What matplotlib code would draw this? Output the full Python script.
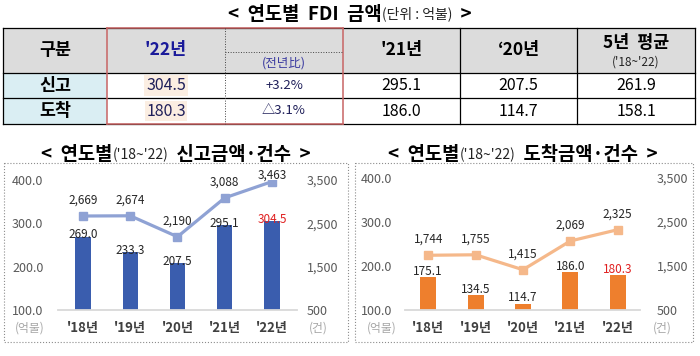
import matplotlib
matplotlib.use("Agg")
import matplotlib.pyplot as plt
from matplotlib.patches import Rectangle

plt.rcParams['font.family'] = ['Noto Sans CJK KR', 'DejaVu Sans']

# chart data
years = ["'18년", "'19년", "'20년", "'21년", "'22년"]
report_amt = [269.0, 233.3, 207.5, 295.1, 304.5]
report_cnt = [2669, 2674, 2190, 3088, 3463]
arrive_amt = [175.1, 134.5, 114.7, 186.0, 180.3]
arrive_cnt = [1744, 1755, 1415, 2069, 2325]

# table data
row_names = ["신고", "도착"]
amt_22 = ["304.5", "180.3"]
yoy = ["+3.2%", "△3.1%"]
amt_21 = ["295.1", "186.0"]
amt_20 = ["207.5", "114.7"]
avg_5y = ["261.9", "158.1"]

W, H = 700, 356
fig = plt.figure(figsize=(7, 3.56), dpi=100)
bg = fig.add_axes([0, 0, 1, 1])
bg.set_xlim(0, W)
bg.set_ylim(H, 0)
bg.axis('off')
renderer = fig.canvas.get_renderer()


def px_axes(x0, y0, x1, y1):
    return fig.add_axes([x0 / W, 1 - y1 / H, (x1 - x0) / W, (y1 - y0) / H])


def text_run(xc, y, pieces):
    # lay out several differently styled text pieces centred on xc
    objs = []
    for s, kw in pieces:
        objs.append(bg.text(0, y, s, va='center', ha='left', **kw))
    widths = []
    for t in objs:
        bb = t.get_window_extent(renderer)
        widths.append(bb.width * W / fig.bbox.width)
    x = xc - sum(widths) / 2
    for t, w in zip(objs, widths):
        t.set_x(x)
        x += w


# ---- top title ----
big = dict(fontsize=13.5, fontweight='bold', color='black')
small = dict(fontsize=10, color='#222222')
text_run(350, 14, [("<  연도별  FDI  금액", big), ("(단위 : 억불)", small), ("  >", big)])

# ---- table ----
cols = [3, 107, 225, 343, 460, 577, 695]
rows = [28, 73, 98, 124]
bg.add_patch(Rectangle((cols[0], rows[0]), cols[-1] - cols[0], rows[1] - rows[0],
                       facecolor='#DCDCDC', edgecolor='none'))
bg.add_patch(Rectangle((cols[0], rows[1]), cols[1] - cols[0], rows[3] - rows[1],
                       facecolor='#DAEEF3', edgecolor='none'))
for y in rows:
    bg.plot([cols[0], cols[-1]], [y, y], color='black', lw=0.9)
for x in [cols[0], cols[4], cols[5], cols[6]]:
    bg.plot([x, x], [rows[0], rows[-1]], color='black', lw=0.9)
for x in [cols[1], cols[3]]:
    bg.plot([x, x], [rows[0], rows[-1]], color='#C86464', lw=1.1)
for y in [rows[0], rows[-1]]:
    bg.plot([cols[1], cols[3]], [y, y], color='#C86464', lw=1.1)
bg.plot([cols[2], cols[2]], [rows[0], rows[-1]], color='#444444', lw=0.7, ls=':')
bg.plot([cols[2], cols[3]], [52, 52], color='#444444', lw=0.7, ls=':')

cx = [(cols[i] + cols[i + 1]) / 2 for i in range(6)]
hdr = dict(fontsize=12.5, fontweight='bold', ha='center', va='center')
bg.text(cx[0], 50, "구분", color='black', **hdr)
bg.text(cx[1], 50, "'22년", color='#1A1A9A', **hdr)
bg.text(cx[2], 63, "(전년比)", fontsize=9, color='#3A3AA0', ha='center', va='center')
bg.text(cx[3], 50, "'21년", color='black', **hdr)
bg.text(cx[4], 50, "‘20년", color='black', **hdr)
bg.text(cx[5], 43, "5년  평균", color='black', **hdr)
bg.text(cx[5], 62, "('18~'22)", fontsize=8.5, color='#222222', ha='center', va='center')

val = dict(fontsize=11.5, ha='center', va='center', color='black')
for i, name in enumerate(row_names):
    yc = (rows[i + 1] + rows[i + 2]) / 2
    bg.text(cx[0], yc, name, color='black', **hdr)
    bg.text(cx[1], yc, amt_22[i], fontsize=11.5, ha='center', va='center', color='#20205A',
            bbox=dict(boxstyle='square,pad=0.1', facecolor='#FBEEE2', edgecolor='none'))
    bg.text(cx[2], yc, yoy[i], fontsize=9.5, ha='center', va='center', color='#20205A')
    bg.text(cx[3], yc, amt_21[i], **val)
    bg.text(cx[4], yc, amt_20[i], **val)
    bg.text(cx[5], yc, avg_5y[i], **val)


# ---- bar + line charts ----
def draw_chart(box, frame, title_x, title, amt, cnt, bar_c, line_c, xlim, bw,
               bar_dy, lpad, rpad, units_x):
    bg.add_patch(Rectangle((frame[0], frame[1]), frame[2] - frame[0], frame[3] - frame[1],
                           fill=False, edgecolor='#8C8C8C', lw=0.8, ls=':'))
    text_run(title_x, 155, [("<  연도별", big), ("('18~'22)", small),
                            ("  " + title + "  >", big)])
    ax = px_axes(*box)
    x = list(range(len(years)))
    ax.bar(x, [a - 100 for a in amt], bottom=100, width=bw, color=bar_c, zorder=2)
    ax.set_xlim(*xlim)
    ax.set_ylim(100, 400)
    ax.set_yticks([100, 200, 300, 400])
    ax.set_yticklabels([f"{v:.1f}" for v in [100, 200, 300, 400]])
    ax.set_xticks(x)
    ax.set_xticklabels(years, fontsize=9.5, color='#404040', fontweight='bold')
    ax.tick_params(axis='y', length=0, labelsize=9, labelcolor='#595959', pad=lpad)
    ax.tick_params(axis='x', length=0, pad=8)
    for s in ['top', 'left', 'right']:
        ax.spines[s].set_visible(False)
    ax.spines['bottom'].set_color('#D9D9D9')
    ax.spines['bottom'].set_linewidth(1.3)
    ax.patch.set_alpha(0)

    ax2 = ax.twinx()
    ax2.plot(x, cnt, color=line_c, lw=2.3, marker='s', markersize=5.5, zorder=3)
    ax2.set_ylim(500, 3500)
    ax2.set_yticks([500, 1500, 2500, 3500])
    ax2.set_yticklabels([f"{v:,}" for v in [500, 1500, 2500, 3500]])
    ax2.tick_params(axis='y', length=0, labelsize=9, labelcolor='#595959', pad=rpad)
    for s in ['top', 'left', 'right', 'bottom']:
        ax2.spines[s].set_visible(False)

    for i in x:
        col = '#E02020' if i == len(x) - 1 else '#262626'
        ax2.annotate(f"{amt[i]:.1f}", (i, 500 + (amt[i] - 100) * 10), xytext=(0, bar_dy),
                     textcoords='offset points', ha='center', va='center',
                     fontsize=8.5, color=col)
        # labels close to the top of the plot sit lower, next to the marker
        dy = 11.5 if cnt[i] < 3300 else 5
        ax2.annotate(f"{cnt[i]:,}", (i, cnt[i]), xytext=(0, dy),
                     textcoords='offset points', ha='center', va='center',
                     fontsize=8.5, color='#262626')
    bg.text(units_x[0], 328, "(억불)", fontsize=8.5, color='#A6A6A6', ha='center', va='center')
    bg.text(units_x[1], 328, "(건)", fontsize=8.5, color='#A6A6A6', ha='center', va='center')


draw_chart((58, 180, 297, 310), (4, 163, 348, 342), 176, "신고금액·건수",
           report_amt, report_cnt, '#3A5DAE', '#8FA2D4', (-0.53, 4.53), 0.32,
           1.5, 10.5, 7, (30, 318))
draw_chart((405, 178, 640, 310), (355, 163, 693, 342), 523, "도착금액·건수",
           arrive_amt, arrive_cnt, '#EE7F2D', '#F5B88A', (-0.49, 4.47), 0.34,
           4, 9.5, 12, (382, 662))

fig.savefig("out.png", dpi=100)
